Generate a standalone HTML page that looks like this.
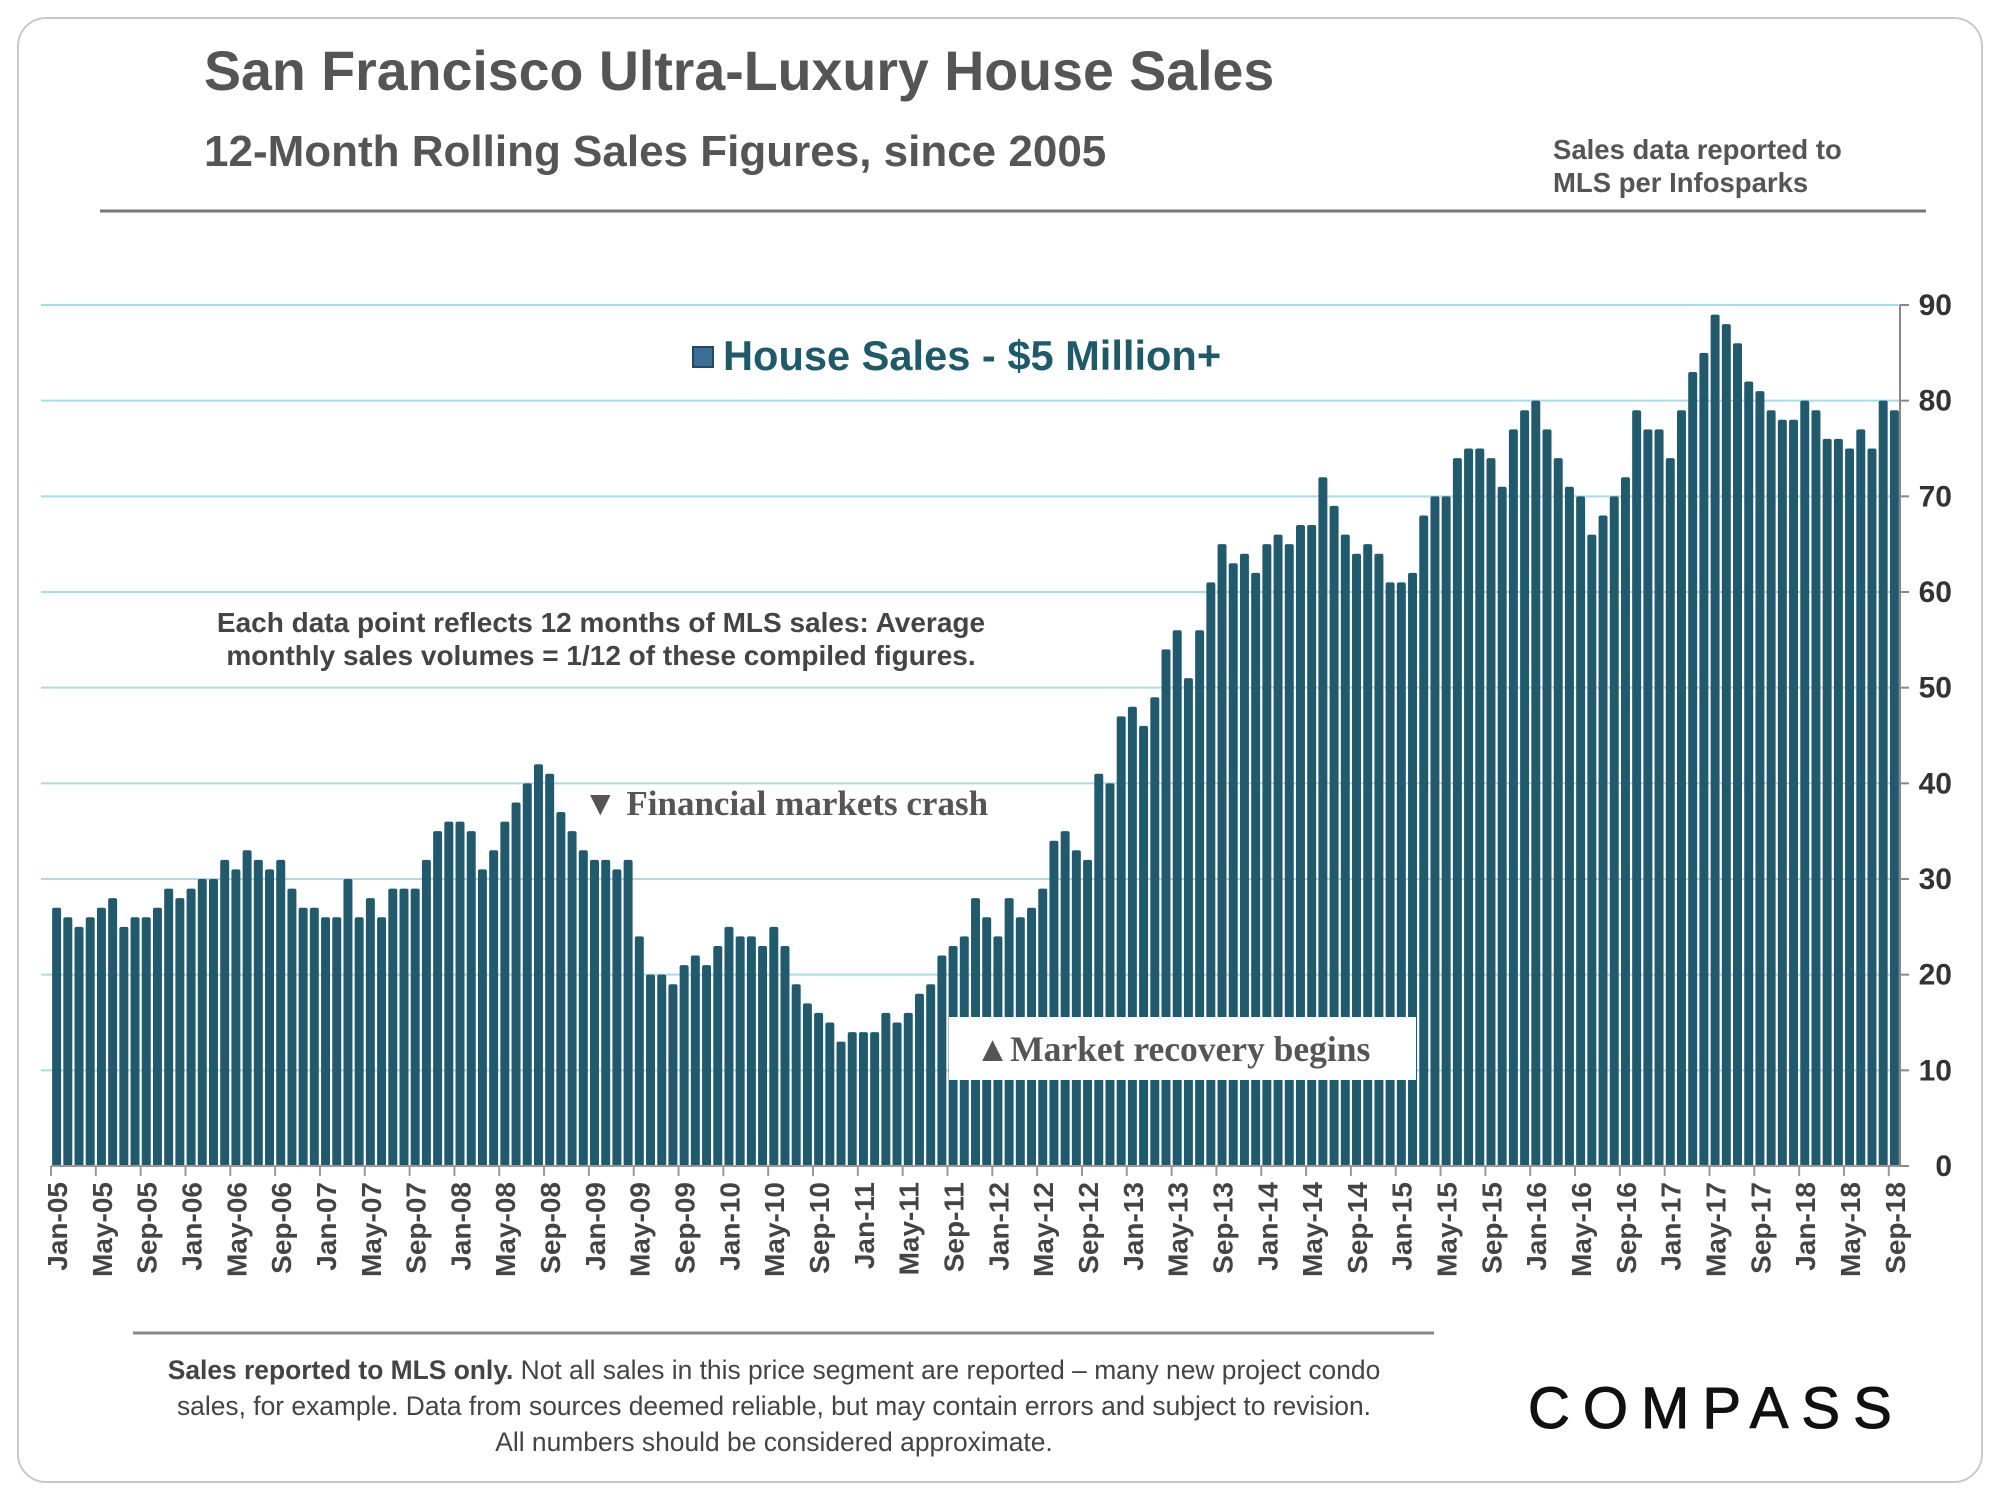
<!DOCTYPE html>
<html><head><meta charset="utf-8"><style>
html,body{margin:0;padding:0;background:#fff;}
svg{display:block;font-family:"Liberation Sans",sans-serif;}
</style></head><body>
<svg id="chart" width="2000" height="1500" viewBox="0 0 2000 1500">
<rect x="18" y="18" width="1964" height="1464" rx="28" fill="#fff" stroke="#c8c8c8" stroke-width="2"/>
<text x="204" y="90" font-size="55.5" font-weight="bold" fill="#555">San Francisco Ultra-Luxury House Sales</text>
<text x="204" y="166" font-size="44" font-weight="bold" fill="#555">12-Month Rolling Sales Figures, since 2005</text>
<text x="1553" y="159" font-size="27.5" font-weight="bold" fill="#555"><tspan x="1553">Sales data reported to</tspan><tspan x="1553" dy="33">MLS per Infosparks</tspan></text>
<line x1="100" y1="211" x2="1926" y2="211" stroke="#777" stroke-width="3"/>
<g id="grid"></g>
<g id="bars"></g>
<g id="axes"></g>
<rect x="693" y="347" width="20" height="20" fill="#3d6f96" stroke="#1f4a60" stroke-width="2"/>
<text x="723" y="370" font-size="41.6" font-weight="bold" fill="#1f5a6b">House Sales - $5 Million+</text>
<text x="601" y="632" font-size="28" font-weight="bold" fill="#444" text-anchor="middle"><tspan x="601">Each data point reflects 12 months of MLS sales:  Average</tspan><tspan x="601" dy="33">monthly sales volumes = 1/12 of these compiled figures.</tspan></text>
<text x="583" y="815" font-size="35" font-weight="bold" fill="#555" font-family="Liberation Serif, serif">▼ Financial markets crash</text>
<rect x="949" y="1017" width="467" height="63" fill="#fff"/>
<text x="975" y="1061" font-size="35.5" font-weight="bold" fill="#555" font-family="Liberation Serif, serif">▲Market recovery begins</text>
<line x1="133" y1="1333" x2="1434" y2="1333" stroke="#888" stroke-width="3"/>
<text x="774" y="1379" font-size="26.4" fill="#444" text-anchor="middle"><tspan x="774" font-weight="bold">Sales reported to MLS only.<tspan font-weight="normal"> Not all sales in this price segment are reported – many new project condo</tspan></tspan><tspan x="774" dy="36">sales, for example. Data from sources deemed reliable, but may contain errors and subject to revision.</tspan><tspan x="774" dy="36">All numbers should be considered approximate.</tspan></text>
<text x="1528" y="1428" font-size="58" fill="#111" letter-spacing="13" stroke="#111" stroke-width="1">COMPASS</text>
</svg>
<script>
const months = ["Jan","Feb","Mar","Apr","May","Jun","Jul","Aug","Sep","Oct","Nov","Dec"];
const sales = [27,26,25,26,27,28,25,26,26,27,29,28,29,30,30,32,31,33,32,31,32,29,27,27,26,26,30,26,28,26,29,29,29,32,35,36,36,35,31,33,36,38,40,42,41,37,35,33,32,32,31,32,24,20,20,19,21,22,21,23,25,24,24,23,25,23,19,17,16,15,13,14,14,14,16,15,16,18,19,22,23,24,28,26,24,28,26,27,29,34,35,33,32,41,40,47,48,46,49,54,56,51,56,61,65,63,64,62,65,66,65,67,67,72,69,66,64,65,64,61,61,62,68,70,70,74,75,75,74,71,77,79,80,77,74,71,70,66,68,70,72,79,77,77,74,79,83,85,89,88,86,82,81,79,78,78,80,79,76,76,75,77,75,80,79];
const yTicks = [0,10,20,30,40,50,60,70,80,90];
const NS="http://www.w3.org/2000/svg";
const X0=51, X1=1900, Y0=1166, Y90=305;
const slot=(X1-X0)/sales.length;
function xScale(i){return X0+i*slot;}
function yScale(v){return Y0-(v/90)*(Y0-Y90);}
function mk(tag,attrs,parent){const e=document.createElementNS(NS,tag);for(const k in attrs)e.setAttribute(k,attrs[k]);parent.appendChild(e);return e;}
const grid=document.getElementById('grid'),bars=document.getElementById('bars'),axes=document.getElementById('axes');
yTicks.forEach(t=>{
  if(t>0){const l=mk('line',{x1:X0-10,x2:X1,y1:yScale(t),y2:yScale(t),stroke:'#a9dbe8','stroke-width':2},grid);
  
  }
  const tk=mk('line',{x1:X1,x2:X1+9,y1:yScale(t),y2:yScale(t),stroke:'#888','stroke-width':2},axes);
  
  
  const tx=mk('text',{x:X1+52,y:yScale(t)+10,'font-size':30,'font-weight':'bold',fill:'#333','text-anchor':'end'},axes);
  tx.textContent=t;
  
  
});
const ya=mk('line',{x1:X1,x2:X1,y1:Y90,y2:Y0,stroke:'#888','stroke-width':2},axes);


sales.forEach((v,i)=>{
  const bw=slot*0.8;
  const r=mk('rect',{x:xScale(i)+(slot-bw)/2,y:yScale(v),width:bw,height:Y0-yScale(v),fill:'#215a6d',rx:2},bars);
  
  
});
const xa=mk('line',{x1:X0,x2:X1,y1:Y0,y2:Y0,stroke:'#999','stroke-width':2},axes);


for(let i=0;i<sales.length;i+=4){
  const x=xScale(i);
  const tk=mk('line',{x1:x,x2:x,y1:Y0,y2:Y0+10,stroke:'#999','stroke-width':2},axes);
  
  
  const yr=String(5+Math.floor(i/12)).padStart(2,'0');
  const tx=mk('text',{x:0,y:0,'font-size':28,'font-weight':'bold',fill:'#444','text-anchor':'end',transform:'translate('+(x+16)+','+(Y0+16)+') rotate(-90)'},axes);
  tx.textContent=months[i%12]+'-'+yr;
  
  
}
</script>
</body></html>
